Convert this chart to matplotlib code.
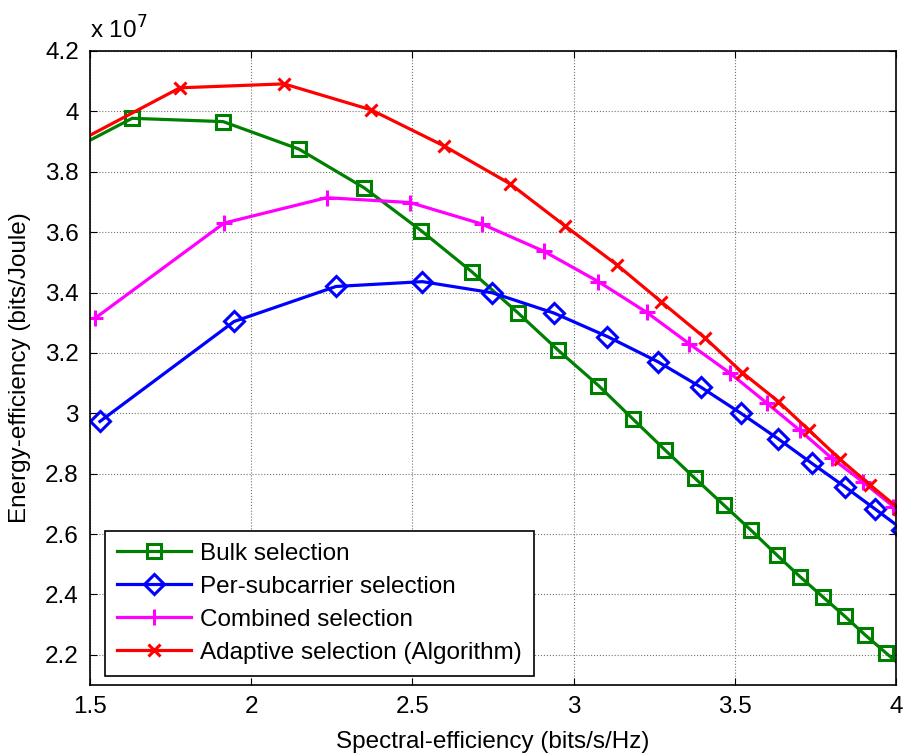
import matplotlib
matplotlib.use('Agg')
import matplotlib.pyplot as plt

plt.rcParams['font.family'] = ['Liberation Sans', 'DejaVu Sans']

# energy-efficiency values are in units of 1e7 bits/Joule
bulk_x = [1.33, 1.631, 1.913, 2.148, 2.350, 2.527, 2.684, 2.828, 2.953, 3.077, 3.183,
          3.283, 3.376, 3.467, 3.549, 3.630, 3.702, 3.774, 3.842, 3.904, 3.969, 4.03]
bulk_y = [3.81, 3.977, 3.966, 3.875, 3.747, 3.605, 3.469, 3.332, 3.208, 3.092, 2.982,
          2.879, 2.785, 2.695, 2.614, 2.531, 2.459, 2.391, 2.327, 2.266, 2.206, 2.15]

persub_x = [1.531, 1.947, 2.263, 2.531, 2.748, 2.939, 3.105, 3.261, 3.394, 3.519,
            3.635, 3.738, 3.842, 3.935, 4.02]
persub_y = [2.973, 3.304, 3.420, 3.436, 3.399, 3.332, 3.254, 3.171, 3.087, 3.000,
            2.915, 2.835, 2.756, 2.683, 2.615]

comb_x = [1.516, 1.916, 2.234, 2.493, 2.715, 2.909, 3.077, 3.227, 3.359, 3.485,
          3.599, 3.702, 3.800, 3.899, 3.992]
comb_y = [3.315, 3.630, 3.714, 3.698, 3.627, 3.536, 3.436, 3.334, 3.230, 3.133,
          3.034, 2.943, 2.852, 2.771, 2.691]

adapt_x = [1.41, 1.779, 2.102, 2.372, 2.599, 2.803, 2.973, 3.134, 3.271, 3.408,
           3.523, 3.635, 3.731, 3.826, 3.919, 4.01]
adapt_y = [3.87, 4.078, 4.091, 4.005, 3.885, 3.760, 3.621, 3.492, 3.370, 3.249,
           3.135, 3.039, 2.943, 2.848, 2.763, 2.683]

xticks = [1.5, 2, 2.5, 3, 3.5, 4]
yticks = [2.2, 2.4, 2.6, 2.8, 3, 3.2, 3.4, 3.6, 3.8, 4, 4.2]

fig = plt.figure(figsize=(9.07, 7.54), dpi=100)
ax = fig.add_axes([0.0992, 0.0915, 0.8887, 0.8409])

lw = 2.3
ax.plot(bulk_x, bulk_y, color='#008000', lw=lw, marker='s', ms=10, mfc='none', mew=2.2,
        label='Bulk selection')
ax.plot(persub_x, persub_y, color='#0000ff', lw=lw, marker='D', ms=10, mfc='none', mew=2.2,
        label='Per-subcarrier selection')
ax.plot(comb_x, comb_y, color='#ff00ff', lw=lw, marker='+', ms=12, mew=2.2,
        label='Combined selection')
ax.plot(adapt_x, adapt_y, color='#ff0000', lw=lw, marker='x', ms=9, mew=2.2,
        label='Adaptive selection (Algorithm)')

ax.set_xlim(1.5, 4)
ax.set_ylim(2.1, 4.2)
ax.set_xticks(xticks)
ax.set_yticks(yticks)
ax.set_xticklabels([f'{t:g}' for t in xticks])
ax.set_yticklabels([f'{t:g}' for t in yticks])
ax.tick_params(direction='in', top=True, right=True, length=5, labelsize=17.5, pad=8)
ax.grid(True, ls=':', color='0.45', lw=0.8)
for s in ax.spines.values():
    s.set_linewidth(1.2)

ax.set_xlabel('Spectral-efficiency (bits/s/Hz)', fontsize=17.5, labelpad=9)
ax.set_ylabel('Energy-efficiency (bits/Joule)', fontsize=17.5, labelpad=10)
ax.text(0.0, 1.012, 'x 10$^{7}$', transform=ax.transAxes, fontsize=17.5, va='bottom')

leg = ax.legend(loc='lower left', bbox_to_anchor=(0.0186, 0.0142), borderaxespad=0,
                fontsize=17.5, handlelength=3.05, handletextpad=0.37, labelspacing=0.45,
                borderpad=0.5, fancybox=False, framealpha=1, edgecolor='black')
leg.get_frame().set_linewidth(1.2)

fig.savefig('out.png', dpi=100)
